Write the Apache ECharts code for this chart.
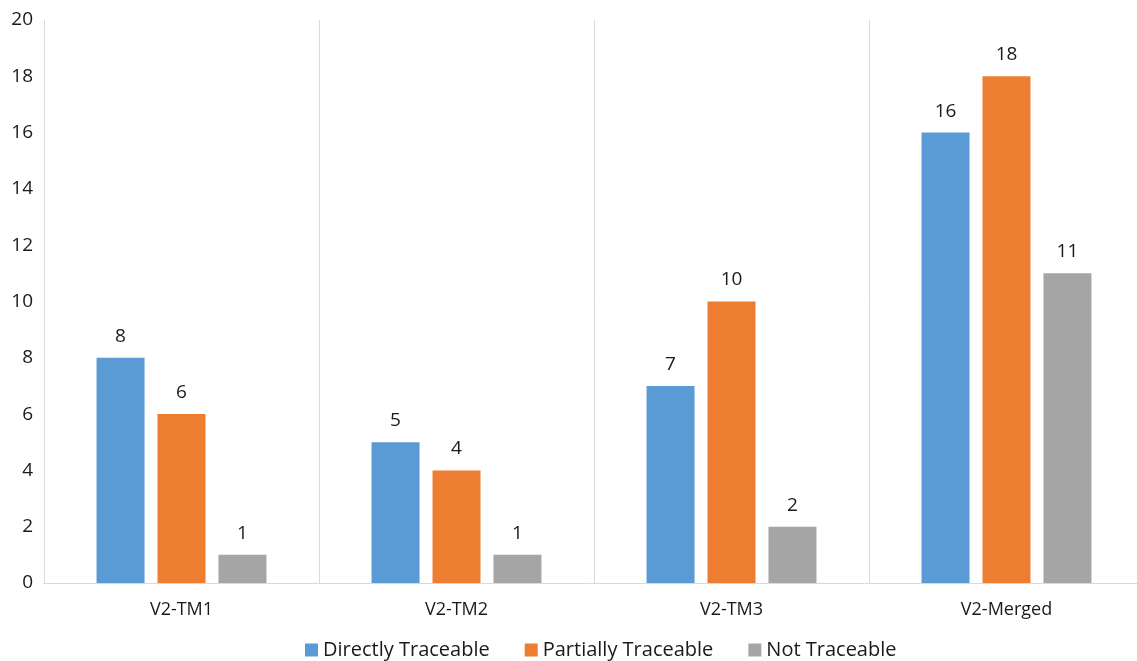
<!DOCTYPE html>
<html><head><meta charset="utf-8">
<script src="https://cdn.jsdelivr.net/npm/echarts@6/dist/echarts.min.js"></script>
<style>html,body{margin:0;padding:0;background:#fff}#c{width:1137px;height:661px}</style>
</head><body><div id="c"></div>
<script>
const categories = ['V2-TM1', 'V2-TM2', 'V2-TM3', 'V2-Merged'];
const directlyTraceable = [8, 5, 7, 16];
const partiallyTraceable = [6, 4, 10, 18];
const notTraceable = [1, 1, 2, 11];
const yTicks = [0, 2, 4, 6, 8, 10, 12, 14, 16, 18, 20];

const font = '"Open Sans", "Noto Sans", sans-serif';
const chart = echarts.init(document.getElementById('c'));
const lbl = {show: true, position: 'top', distance: 12, color: '#1a1a1a', fontSize: 19, fontFamily: font};
chart.setOption({
  animation: false,
  grid: {left: 44, width: 1100, top: 20, bottom: 78, outerBoundsMode: 'none', containLabel: false},
  legend: {
    top: 635, left: 300, itemWidth: 13, itemHeight: 13, itemGap: 35,
    textStyle: {fontSize: 20, fontFamily: font, color: '#1a1a1a'},
    icon: 'rect'
  },
  xAxis: {
    type: 'category', data: categories,
    axisLine: {lineStyle: {color: '#d9d9d9'}},
    axisTick: {show: false},
    splitLine: {show: true, interval: 0, lineStyle: {color: '#d9d9d9'}},
    axisLabel: {fontSize: 18, fontFamily: font, color: '#1a1a1a', margin: 18}
  },
  yAxis: {
    type: 'value', min: yTicks[0], max: yTicks[yTicks.length - 1], interval: 2,
    axisLine: {show: false}, axisTick: {show: false},
    splitLine: {show: false},
    axisLabel: {fontSize: 19, fontFamily: font, color: '#1a1a1a', margin: 11}
  },
  series: [
    {name: 'Directly Traceable', type: 'bar', data: directlyTraceable, barWidth: 48, barGap: '27%', itemStyle: {color: '#5B9BD5'}, label: lbl},
    {name: 'Partially Traceable', type: 'bar', data: partiallyTraceable, barWidth: 48, barGap: '27%', itemStyle: {color: '#ED7D31'}, label: lbl},
    {name: 'Not Traceable', type: 'bar', data: notTraceable, barWidth: 48, barGap: '27%', itemStyle: {color: '#A5A5A5'}, label: lbl}
  ]
});
</script></body></html>
